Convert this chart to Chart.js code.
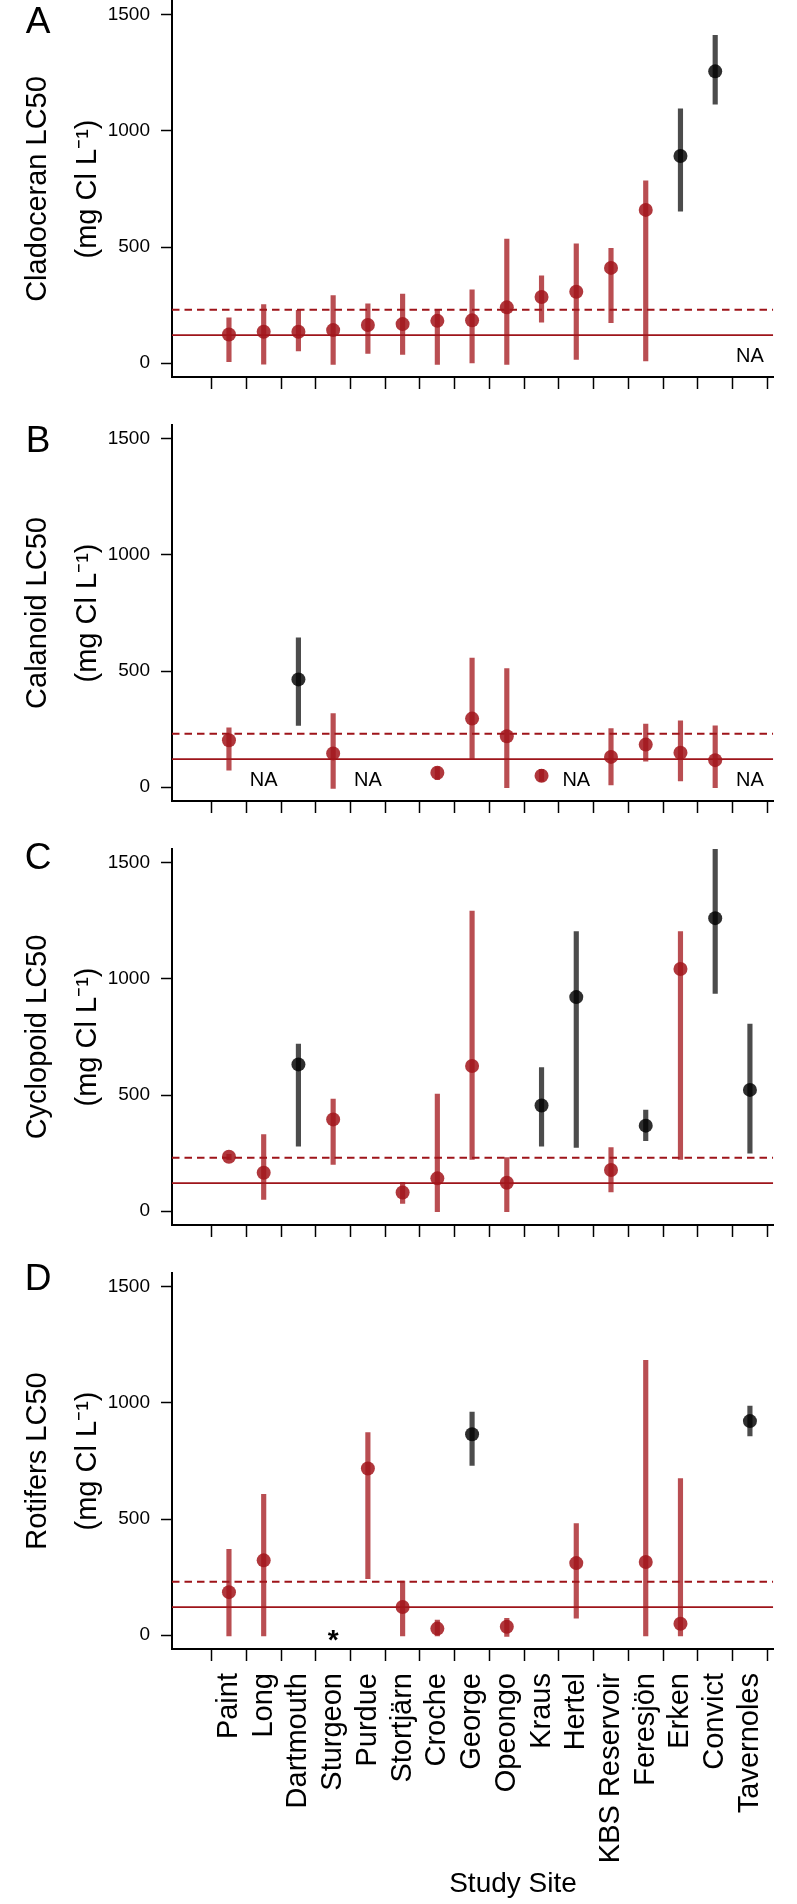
<!DOCTYPE html>
<html>
<head>
<meta charset="utf-8">
<script src="https://cdn.jsdelivr.net/npm/chart.js"></script>
<style>
html, body { margin: 0; padding: 0; background: #ffffff; }
body { width: 797px; height: 1904px; position: relative; overflow: hidden; }
canvas { position: absolute; left: 0; }
</style>
</head>
<body>
<canvas id="cA"></canvas>
<canvas id="cB"></canvas>
<canvas id="cC"></canvas>
<canvas id="cD"></canvas>
<script>
// ---------- DATA ----------
const sites = ['Paint', 'Long', 'Dartmouth', 'Sturgeon', 'Purdue', 'Stortjärn', 'Croche', 'George',
  'Opeongo', 'Kraus', 'Hertel', 'KBS Reservoir', 'Feresjön', 'Erken', 'Convict', 'Tavernoles'];
const yTicks = [0, 500, 1000, 1500];
const dashedThreshold = 230;   // mg Cl L-1
const solidThreshold = 120;    // mg Cl L-1

// A: Cladoceran
const cladLC50 = [123, 135, 135, 142, 164, 168, 182, 184, 240, 285, 307, 410, 660, 892, 1257, null];
const cladLow  = [6, -5, 52, -6, 42, 37, -6, 1, -6, 176, 16, 174, 9, 654, 1116, null];
const cladHigh = [195, 252, 227, 291, 255, 297, 228, 316, 534, 376, 514, 494, 785, 1095, 1412, null];
const cladDark = [0, 0, 0, 0, 0, 0, 0, 0, 0, 0, 0, 0, 0, 1, 1, 0];
const cladNA   = ['Tavernoles'];

// B: Calanoid
const calaLC50 = [202, null, 464, 145, null, null, 62, 295, 219, 49, null, 130, 183, 148, 116, null];
const calaLow  = [73, null, 266, -6, null, null, 32, 119, -3, 24, null, 9, 112, 27, -3, null];
const calaHigh = [255, null, 643, 317, null, null, 87, 556, 510, 76, null, 252, 271, 285, 264, null];
const calaDark = [0, 0, 1, 0, 0, 0, 0, 0, 0, 0, 0, 0, 0, 0, 0, 0];
const calaNA   = ['Long', 'Purdue', 'Hertel', 'Tavernoles'];

// C: Cyclopoid
const cyclLC50 = [234, 165, 632, 395, null, 80, 141, 625, 122, 455, 922, 177, 368, 1043, 1262, 522];
const cyclLow  = [222, 50, 280, 201, null, 33, -3, 223, -3, 280, 274, 83, 303, 223, 938, 249];
const cyclHigh = [245, 330, 720, 483, null, 124, 504, 1293, 231, 618, 1204, 274, 435, 1204, 1559, 806];
const cyclDark = [0, 0, 1, 0, 0, 0, 0, 0, 0, 1, 1, 0, 1, 0, 1, 1];
const cyclNA   = [];

// D: Rotifers
const rotiLC50 = [185, 322, null, null, 718, 121, 28, 865, 36, null, 310, null, 315, 49, null, 922];
const rotiLow  = [-4, -4, null, null, 243, -4, -4, 731, -6, null, 73, null, -4, -4, null, 858];
const rotiHigh = [369, 606, null, null, 872, 233, 65, 961, 72, null, 480, null, 1184, 674, null, 987];
const rotiDark = [0, 0, 0, 0, 0, 0, 0, 1, 0, 0, 0, 0, 0, 0, 0, 1];
const rotiNA   = [];
const rotiStar = ['Sturgeon'];

// ---------- STYLE ----------
const FAMILY = "'Liberation Sans', Arial, Helvetica, sans-serif";
const redPoint = 'rgba(163, 22, 28, 0.86)';
const redBar = 'rgba(163, 22, 28, 0.76)';
const darkPoint = 'rgba(0, 0, 0, 0.82)';
const darkBar = 'rgba(0, 0, 0, 0.70)';
const refColor = 'rgb(158, 20, 26)';
const xMin = -1.64, xMax = 15.67;

const panelText = {
  id: 'panelText',
  afterDatasetsDraw(chart, args, o) {
    const ctx = chart.ctx;
    const xs = chart.scales.x, ys = chart.scales.y;
    ctx.save();
    ctx.fillStyle = '#000';
    ctx.textAlign = 'center';
    ctx.textBaseline = 'alphabetic';
    ctx.font = '37px ' + FAMILY;
    ctx.fillText(o.letter, 38, o.letterY + 0.36 * 37);
    ctx.font = '20px ' + FAMILY;
    (o.na || []).forEach(name => {
      const i = sites.indexOf(name);
      ctx.fillText('NA', xs.getPixelForValue(i), ys.getPixelForValue(4));
    });
    ctx.font = 'bold 28px ' + FAMILY;
    (o.star || []).forEach(name => {
      const i = sites.indexOf(name);
      ctx.fillText('*', xs.getPixelForValue(i), ys.getPixelForValue(-8) + 12);
    });
    if (o.xTitle) {
      ctx.font = '28px ' + FAMILY;
      ctx.fillText(o.xTitle, o.xTitleX, o.xTitleBase);
    }
    ctx.restore();
  }
};

function build(p) {
  const cv = document.getElementById(p.id);
  cv.width = 797; cv.height = p.height;
  cv.style.top = p.top + 'px';
  const pts = [], bars = [];
  sites.forEach((s, i) => {
    if (p.lc50[i] == null) return;
    const dark = !!p.dark[i];
    pts.push({ x: i, y: p.lc50[i], dark });
    bars.push({ x: i, y: [p.lo[i], p.hi[i]], dark });
  });
  new Chart(cv, {
    type: 'scatter',
    data: {
      datasets: [
        { type: 'scatter', data: pts, order: 0, pointRadius: 7, pointHoverRadius: 7,
          pointBorderWidth: 0, borderWidth: 0,
          pointBackgroundColor: c => (c.raw && c.raw.dark) ? darkPoint : redPoint },
        { type: 'bar', data: bars, order: 1, barThickness: 4.5, grouped: false, borderWidth: 0,
          backgroundColor: c => (c.raw && c.raw.dark) ? darkBar : redBar },
        { type: 'line', data: [{ x: xMin, y: dashedThreshold }, { x: xMax, y: dashedThreshold }], order: 2,
          borderColor: refColor, borderWidth: 2, borderDash: [7.5, 5], pointRadius: 0, fill: false },
        { type: 'line', data: [{ x: xMin, y: solidThreshold }, { x: xMax, y: solidThreshold }], order: 2,
          borderColor: refColor, borderWidth: 1.8, pointRadius: 0, fill: false }
      ]
    },
    plugins: [panelText],
    options: {
      responsive: false, animation: false, devicePixelRatio: 1, events: [],
      layout: { padding: { top: 25, right: 5, left: 0, bottom: 0 } },
      plugins: {
        legend: { display: false }, tooltip: { enabled: false },
        panelText: { letter: p.letter, letterY: p.letterY, na: p.na, star: p.star,
          xTitle: p.xTitle, xTitleX: p.xTitleX, xTitleBase: p.xTitleBase }
      },
      scales: {
        x: {
          type: 'linear', min: xMin, max: xMax, offset: false,
          afterBuildTicks: s => { s.ticks = sites.map((_, i) => ({ value: i })); },
          afterFit: s => { s.height = p.xAxisH; },
          grid: { display: true, drawOnChartArea: false, drawTicks: true, tickLength: 12, tickWidth: 1.5, color: '#000' },
          border: { display: true, color: '#000', width: 2 },
          ticks: { autoSkip: false, maxRotation: 90, minRotation: 90, padding: 12, color: '#000',
            font: { family: FAMILY, size: 29 },
            callback: v => p.showLabels ? sites[v] : '' }
        },
        y: {
          type: 'linear', min: -60, max: 1560,
          afterBuildTicks: s => { s.ticks = yTicks.map(v => ({ value: v })); },
          afterFit: s => { s.width = 172; },
          grid: { display: true, drawOnChartArea: false, drawTicks: true, tickLength: 11, tickWidth: 1.5, color: '#000' },
          border: { display: true, color: '#000', width: 2 },
          ticks: { padding: 11, color: '#000', font: { family: FAMILY, size: 19 }, callback: v => String(v) },
          title: { display: true, text: p.title, color: '#000',
            font: { family: FAMILY, size: 29, lineHeight: 50 / 29 }, padding: { top: 13, bottom: 0 } }
        }
      }
    }
  });
}

build({ id: 'cA', top: -24, height: 448, xAxisH: 47, showLabels: false,
  title: ['Cladoceran LC50', '(mg Cl L\u207B\u00B9)'],
  lc50: cladLC50, lo: cladLow, hi: cladHigh, dark: cladDark, na: cladNA, star: [],
  letter: 'A', letterY: 43.2 });
build({ id: 'cB', top: 400, height: 448, xAxisH: 47, showLabels: false,
  title: ['Calanoid LC50', '(mg Cl L\u207B\u00B9)'],
  lc50: calaLC50, lo: calaLow, hi: calaHigh, dark: calaDark, na: calaNA, star: [],
  letter: 'B', letterY: 38.3 });
build({ id: 'cC', top: 824, height: 448, xAxisH: 47, showLabels: false,
  title: ['Cyclopoid LC50', '(mg Cl L\u207B\u00B9)'],
  lc50: cyclLC50, lo: cyclLow, hi: cyclHigh, dark: cyclDark, na: cyclNA, star: [],
  letter: 'C', letterY: 31.8 });
build({ id: 'cD', top: 1248, height: 656, xAxisH: 255, showLabels: true,
  title: ['Rotifers LC50', '(mg Cl L\u207B\u00B9)'],
  lc50: rotiLC50, lo: rotiLow, hi: rotiHigh, dark: rotiDark, na: rotiNA, star: rotiStar,
  letter: 'D', letterY: 28.7, xTitle: 'Study Site', xTitleX: 513, xTitleBase: 644 });
</script>
</body>
</html>
